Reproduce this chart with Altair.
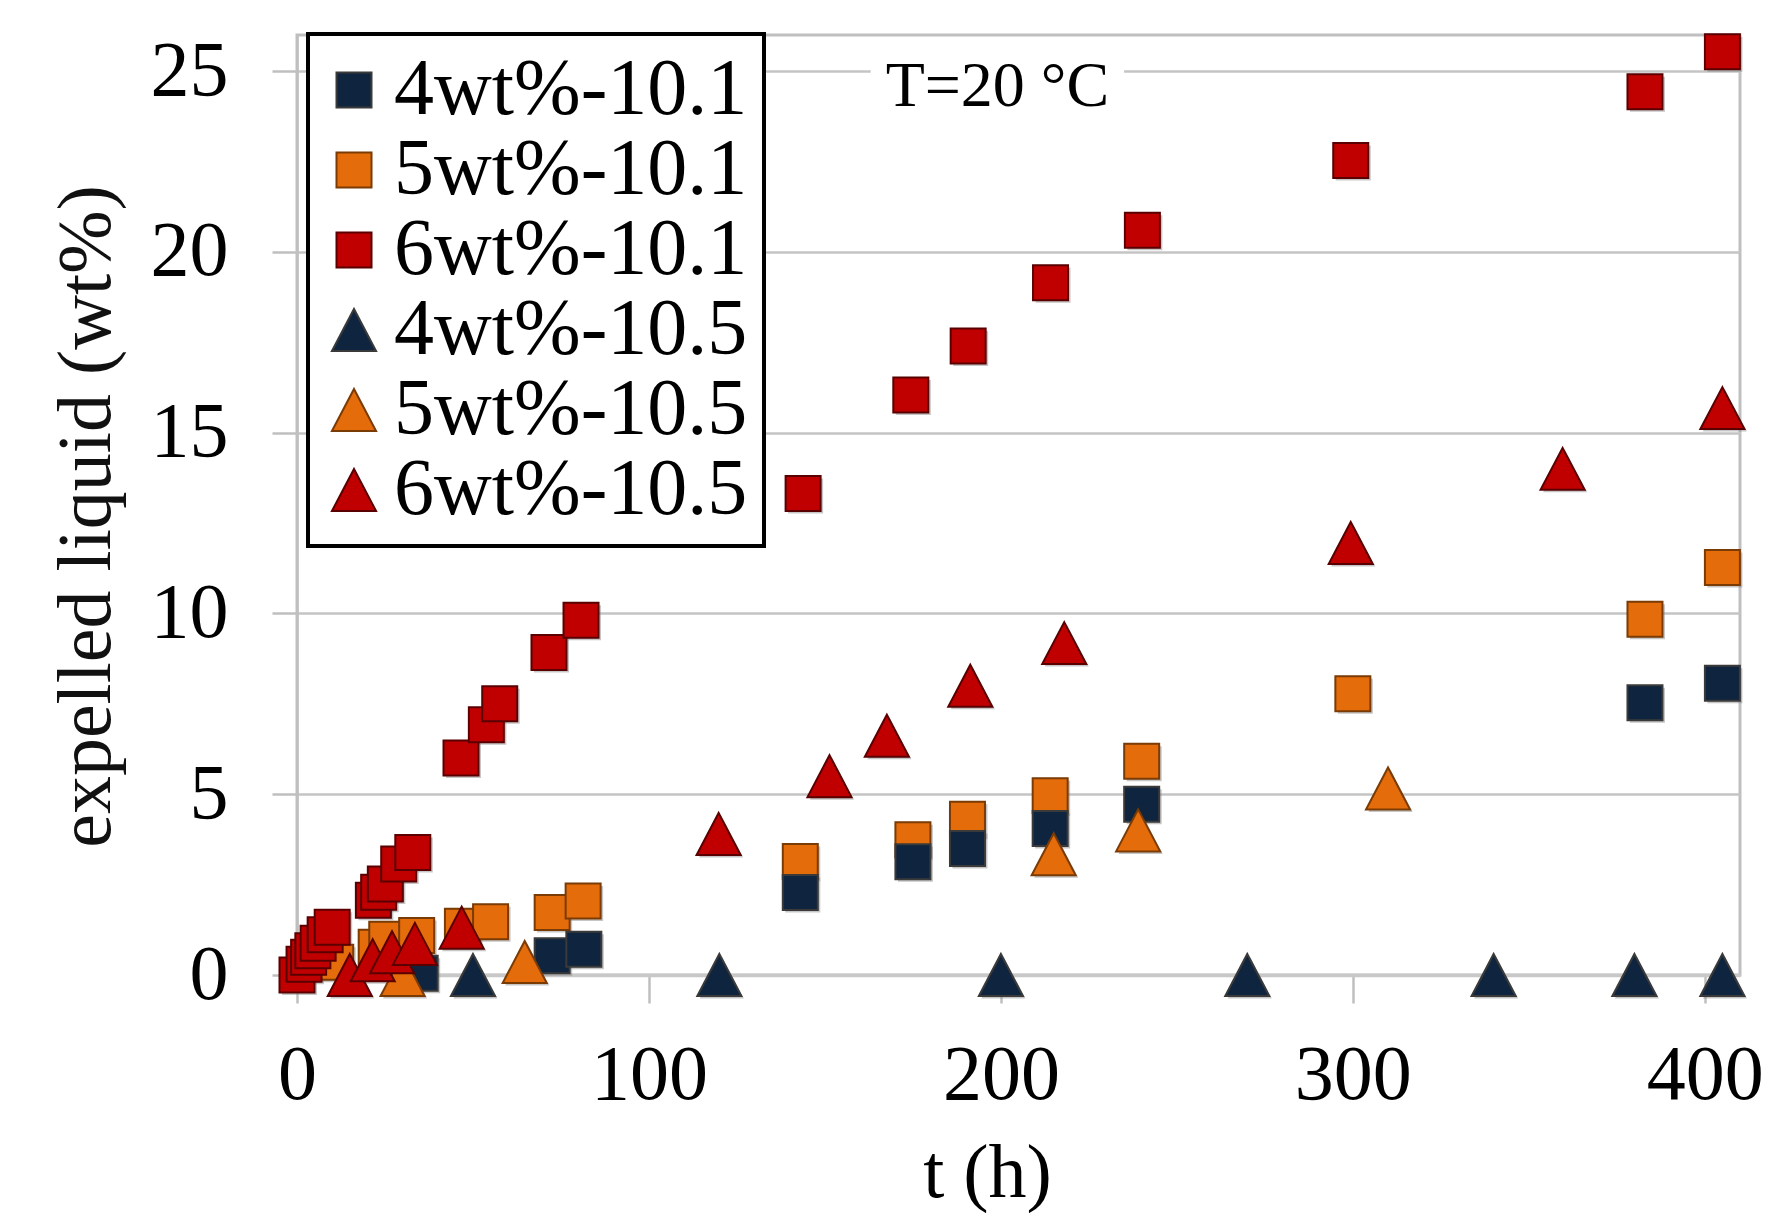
import altair as alt
import pandas as pd

SERIES = ["4wt%-10.1", "5wt%-10.1", "6wt%-10.1", "4wt%-10.5", "5wt%-10.5", "6wt%-10.5"]
FILLS = ["#0f243e", "#e46c0a", "#c00000", "#0f243e", "#e46c0a", "#c00000"]
STROKES = ["#3a3a3a", "#7a3b05", "#5a0000", "#3a3a3a", "#7a3b05", "#5a0000"]
TRI = "M0,-1.2L1.26,1.2L-1.26,1.2Z"
SHAPES = ["square", "square", "square", TRI, TRI, TRI]

# 4wt%-10.1 (navy squares)
t_4_101 = [35, 72.5, 81.5, 143, 175, 190.5, 214, 240, 383, 405]
v_4_101 = [0.05, 0.53, 0.71, 2.28, 3.13, 3.5, 4.05, 4.72, 7.53, 8.07]
# 5wt%-10.1 (orange squares)
t_5_101 = [11, 22.5, 25.5, 34, 47, 55, 72.5, 81.3, 143, 175, 190.5, 214, 240, 300, 383, 405]
v_5_101 = [0.35, 0.77, 0.99, 1.09, 1.35, 1.47, 1.73, 2.05, 3.14, 3.74, 4.31, 4.96, 5.91, 7.78, 9.84, 11.27]
# 6wt%-10.1 (red squares)
t_6_101 = [0, 2, 3.3, 4.5, 6, 8, 10, 21.7, 23.2, 25.1, 28.9, 32.9, 46.6, 53.8, 57.6,
           71.6, 80.7, 143.8, 174.4, 190.7, 214.1, 240.2, 299.4, 383, 405]
v_6_101 = [0, 0.3, 0.49, 0.67, 0.88, 1.11, 1.32, 2.07, 2.29, 2.52, 3.07, 3.39, 6.0, 6.92, 7.5,
           8.92, 9.81, 13.32, 16.04, 17.4, 19.15, 20.6, 22.53, 24.43, 25.54]
# 4wt%-10.5 (navy triangles)
t_4_105 = [50, 120, 200, 270, 340, 380, 405]
v_4_105 = [0, 0, 0, 0, 0, 0, 0]
# 5wt%-10.5 (orange triangles)
t_5_105 = [30, 64.7, 215, 239, 310]
v_5_105 = [0, 0.36, 3.34, 4.0, 5.16]
# 6wt%-10.5 (red triangles)
t_6_105 = [15, 21.5, 27, 33.5, 46.8, 119.8, 151.3, 167.6, 191.3, 218, 299.4, 359.6, 405]
v_6_105 = [0, 0.41, 0.63, 0.86, 1.31, 3.9, 5.5, 6.62, 8.0, 9.18, 11.95, 14.0, 15.68]

# annotation
note_text = ["T=20 °C"]
note_x = [199]
note_y = [24.57]
note_box_x = [163]
note_box_x2 = [235]
note_box_y = [24.1]
note_box_y2 = [25.6]

draw_order = [
    ("5wt%-10.1", t_5_101, v_5_101, "sq"),
    ("4wt%-10.1", t_4_101, v_4_101, "sq"),
    ("6wt%-10.1", t_6_101, v_6_101, "sq"),
    ("4wt%-10.5", t_4_105, v_4_105, "tri"),
    ("5wt%-10.5", t_5_105, v_5_105, "tri"),
    ("6wt%-10.5", t_6_105, v_6_105, "tri"),
]
rows = []
for name, ts, vs, kind in draw_order:
    for t, v in zip(ts, vs):
        rows.append({"series": name, "t": t, "v": v, "kind": kind})
df = pd.DataFrame(rows)

note_df = pd.DataFrame({"text": note_text, "x": note_x, "y": note_y})
box_df = pd.DataFrame({"x": note_box_x, "x2": note_box_x2, "y": note_box_y, "y2": note_box_y2})

FONT = "Liberation Serif"
xscale = alt.Scale(domain=[0, 410], nice=False, zero=False)
yscale = alt.Scale(domain=[0, 26], nice=False, zero=False)

x_axis = alt.Axis(
    values=[0, 100, 200, 300, 400], grid=False, title="t (h)",
    labelFont=FONT, labelFontSize=78, labelColor="#000", labelBaseline="middle",
    labelPadding=72, labelFlush=False, labelOverlap=False,
    tickSize=28, tickColor="#bfbfbf", tickWidth=2.5,
    domainColor="#c8c8c8", domainWidth=3.5,
    titleFont=FONT, titleFontSize=76, titleFontWeight="normal", titleColor="#000",
    titleX=690, titleY=198, titleBaseline="middle", titleAlign="center",
)
y_axis = alt.Axis(
    values=[0, 5, 10, 15, 20, 25], grid=True, gridColor="#c4c4c4", gridWidth=2.5,
    title="expelled liquid (wt%)",
    labelFont=FONT, labelFontSize=78, labelColor="#000", labelPadding=44,
    labelFlush=False, labelOverlap=False,
    tickSize=25, tickColor="#bfbfbf", tickWidth=2.5,
    domainColor="#bfbfbf", domainWidth=2.5,
    titleFont=FONT, titleFontSize=76, titleFontWeight="normal", titleColor="#111",
    titleX=-211, titleY=481, titleBaseline="middle", titleAlign="center", titleAngle=-90,
)

legend = alt.Legend(
    title=None, orient="none", legendX=11, legendY=-1,
    labelFont=FONT, labelFontSize=80, labelColor="#000", labelLimit=0,
    labelOffset=0, symbolOffset=-10, symbolSize=1225, symbolStrokeWidth=2,
    padding=16, rowPadding=0, fillColor="white", strokeColor="black",
)

box = alt.Chart(box_df).mark_rect(color="white").encode(
    x=alt.X("x:Q", scale=xscale, axis=x_axis), x2="x2:Q",
    y=alt.Y("y:Q", scale=yscale, axis=y_axis), y2="y2:Q",
)

shadow_sq = alt.Chart(df).transform_filter("datum.kind == 'sq'").mark_point(
    shape="square", filled=True, size=1225, color="#808080", opacity=0.45,
    xOffset=2.5, yOffset=2.5, strokeWidth=0,
).encode(x=alt.X("t:Q", scale=xscale), y=alt.Y("v:Q", scale=yscale))

shadow_tri = alt.Chart(df).transform_filter("datum.kind == 'tri'").mark_point(
    shape=TRI, filled=True, size=1225, color="#808080", opacity=0.45,
    xOffset=2.5, yOffset=2.5, strokeWidth=0,
).encode(x=alt.X("t:Q", scale=xscale), y=alt.Y("v:Q", scale=yscale))

points = alt.Chart(df).mark_point(filled=True, opacity=1, size=1225, strokeWidth=2).encode(
    x=alt.X("t:Q", scale=xscale),
    y=alt.Y("v:Q", scale=yscale),
    color=alt.Color("series:N", scale=alt.Scale(domain=SERIES, range=FILLS), legend=legend),
    shape=alt.Shape("series:N", scale=alt.Scale(domain=SERIES, range=SHAPES)),
    stroke=alt.Stroke("series:N", scale=alt.Scale(domain=SERIES, range=STROKES)),
)

note = alt.Chart(note_df).mark_text(
    font=FONT, fontSize=64, color="#000", align="center", baseline="middle"
).encode(x=alt.X("x:Q", scale=xscale), y=alt.Y("y:Q", scale=yscale), text="text:N")

chart = alt.layer(box, shadow_sq, shadow_tri, points, note).properties(
    width=1443, height=940,
    autosize=alt.AutoSizeParams(type="none"),
    padding={"left": 289, "top": 27, "right": 40, "bottom": 238},
    background="white",
).configure_view(stroke="#bfbfbf", strokeWidth=3).configure_legend(strokeWidth=4)

chart.save("out.html", embed_options={"renderer": "svg", "actions": False})
